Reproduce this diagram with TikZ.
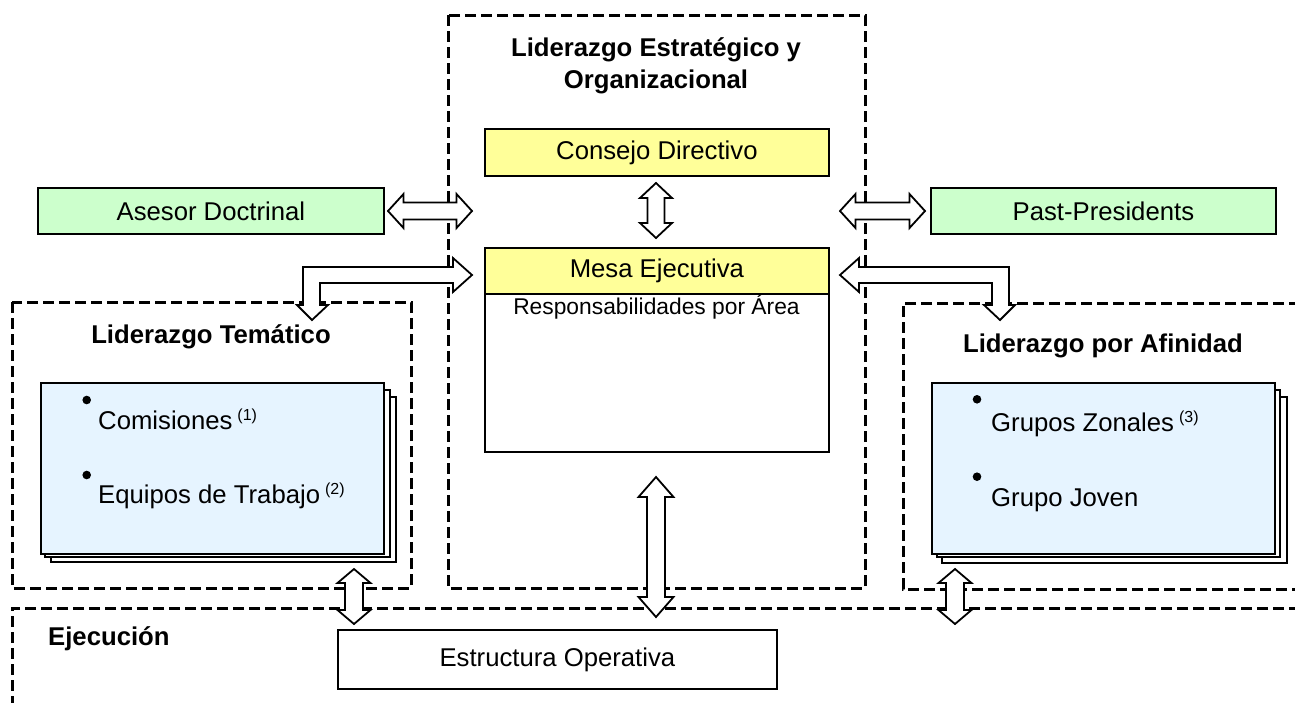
\documentclass[tikz,border=0pt]{standalone}
\usepackage{fontspec}
\setmainfont{Liberation Sans}
\definecolor{yel}{HTML}{FFFF99}
\definecolor{grn}{HTML}{CCFFCC}
\definecolor{blu}{HTML}{E6F4FF}
% horizontal double block arrow: x1, x2, y, half shaft, half head, head length
\newcommand{\hdbl}[6]{\draw[barrow] (#1,#3) -- (#1+#6,#3-#5) -- (#1+#6,#3-#4) -- (#2-#6,#3-#4) -- (#2-#6,#3-#5) -- (#2,#3) -- (#2-#6,#3+#5) -- (#2-#6,#3+#4) -- (#1+#6,#3+#4) -- (#1+#6,#3+#5) -- cycle;}
% vertical double block arrow: x, y1, y2, half shaft, half head, head length
\newcommand{\vdbl}[6]{\draw[barrow] (#1,#2) -- (#1+#5,#2+#6) -- (#1+#4,#2+#6) -- (#1+#4,#3-#6) -- (#1+#5,#3-#6) -- (#1,#3) -- (#1-#5,#3-#6) -- (#1-#4,#3-#6) -- (#1-#4,#2+#6) -- (#1-#5,#2+#6) -- cycle;}
\newcommand{\supnote}[1]{\hspace{5pt}\raisebox{9pt}{\fontsize{16}{16}\selectfont(#1)}}
\begin{document}
\begin{tikzpicture}[x=1pt,y=-1pt,
  solidbox/.style={draw=black, line width=1.8pt, inner sep=0pt, anchor=north west},
  dbox/.style={draw=black, line width=3pt, dash pattern=on 11pt off 5pt},
  barrow/.style={draw=black, fill=white, line width=1.8pt, line join=miter},
  backsheet/.style={draw=black, fill=white, line width=1.6pt},
  txt/.style={font=\fontsize{25.7}{30}\selectfont, inner sep=0pt},
  stxt/.style={font=\fontsize{22.8}{27}\selectfont, inner sep=0pt},
  btxt/.style={font=\fontsize{25.7}{32}\selectfont\bfseries, inner sep=0pt},
  bullet/.style={fill=black},
]
\useasboundingbox (0,0) rectangle (1295,702);
\clip (0,0) rectangle (1295,702);

% dashed group frames
\draw[dbox] (448,15) rectangle (865,588);
\draw[dbox] (12,302) rectangle (411,588);
\draw[dbox] (1300,303) -- (903,303) -- (903,589) -- (1300,589);
\draw[dbox] (1300,608) -- (12,608) -- (12,710);

% titles
\node[btxt, align=center] (tstrat) at (656,66) {Liderazgo Estrat\'egico y\\Organizacional};
\node[btxt, anchor=base] (ttema) at (211,343) {Liderazgo Tem\'atico};
\node[btxt, anchor=base] (tafin) at (1103,352) {Liderazgo por Afinidad};
\node[btxt, anchor=base west] (tejec) at (48,645) {Ejecuci\'on};

% central boxes
\node[solidbox, fill=yel, minimum width=344pt, minimum height=47pt, txt] (consejo) at (484,128) {Consejo Directivo};
\node[solidbox, fill=white, minimum width=344pt, minimum height=158pt] (resp) at (484,293) {};
\node[solidbox, fill=yel, minimum width=344pt, minimum height=46pt, txt] (mesa) at (484,247) {Mesa Ejecutiva};
\node[stxt, anchor=base] (resptxt) at (656.5,314) {Responsabilidades por \'Area};

% side boxes
\node[solidbox, fill=grn, minimum width=346pt, minimum height=46pt, txt] (asesor) at (37,187) {Asesor Doctrinal};
\node[solidbox, fill=grn, minimum width=345pt, minimum height=46pt, txt] (past) at (930,187) {Past-Presidents};

% stacked sheets left
\draw[backsheet] (51,397) rectangle (396,562);
\draw[backsheet] (45,390) rectangle (390,557);
\node[solidbox, fill=blu, minimum width=343pt, minimum height=171pt] (tema) at (40,382) {};
\fill[bullet] (86.7,400) circle (4.3pt);
\fill[bullet] (86.7,475) circle (4.3pt);
\node[txt, anchor=base west] (comis) at (98,429) {Comisiones\supnote{1}};
\node[txt, anchor=base west] (equip) at (98,503) {Equipos de Trabajo\supnote{2}};

% stacked sheets right
\draw[backsheet] (942,397) rectangle (1287,563);
\draw[backsheet] (937,390) rectangle (1280,557);
\node[solidbox, fill=blu, minimum width=343pt, minimum height=171pt] (afin) at (931,382) {};
\fill[bullet] (977,399.3) circle (4.3pt);
\fill[bullet] (977,476.7) circle (4.3pt);
\node[txt, anchor=base west] (zonal) at (991,431) {Grupos Zonales\supnote{3}};
\node[txt, anchor=base west] (joven) at (991,506) {Grupo Joven};

% operative structure
\node[solidbox, fill=white, minimum width=439pt, minimum height=59pt, txt] (estr) at (337,629) {Estructura Operativa};

% block arrows
\hdbl{388}{472}{211}{8.5}{17}{15.5}
\hdbl{840}{925}{211}{8.5}{17}{15.5}
\vdbl{656}{183}{238}{8.5}{16}{15}
\vdbl{656}{477}{617}{9}{17.5}{20}
\vdbl{354}{569}{624}{9}{16.5}{14}
\vdbl{955}{569}{624}{9}{16.5}{14}
% elbow arrows Mesa <-> side groups
\draw[barrow] (472,275) -- (453,258) -- (453,267) -- (303,267) -- (303,305) -- (297,305) -- (312,320) -- (328,305) -- (320,305) -- (320,283) -- (453,283) -- (453,292) -- cycle;
\draw[barrow] (840,275) -- (859,258) -- (859,267) -- (1009,267) -- (1009,305) -- (1015,305) -- (1000,320) -- (984,305) -- (992,305) -- (992,283) -- (859,283) -- (859,292) -- cycle;
\end{tikzpicture}
\end{document}
